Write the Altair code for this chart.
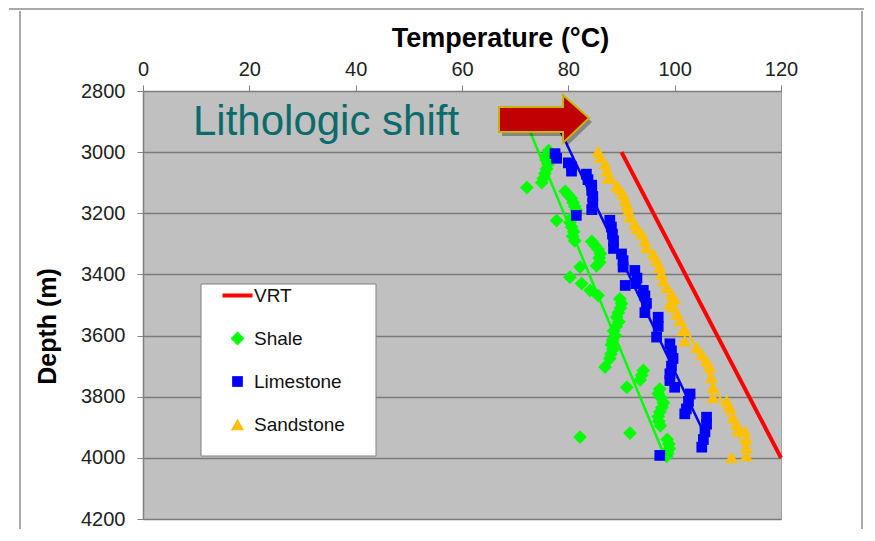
import altair as alt
import pandas as pd

# ---------------- data ----------------
shale_temp = [76.3, 76.0, 75.8, 76.2, 75.9, 75.6, 75.3, 75.0, 72.2,
              79.4, 80.0, 80.6, 80.9, 81.2, 81.5, 77.8,
              80.6, 80.3, 80.6, 81.0, 80.8, 81.2,
              84.4, 85.0, 85.6, 86.0, 85.8, 85.9, 85.3,
              80.3, 82.2, 82.5, 84.1, 85.6,
              89.7, 90.0, 89.8, 89.4, 89.1, 89.5, 89.0,
              88.5, 88.8, 88.3, 88.1, 88.4, 88.0, 87.8, 86.9,
              94.1, 93.8, 93.5, 91.0,
              97.2, 96.9, 97.5, 97.9, 97.6, 97.2, 96.9, 97.0, 97.3,
              82.2, 91.6, 98.6, 98.9, 99.0, 98.7, 98.5]
shale_depth = [2995, 3010, 3025, 3040, 3055, 3070, 3085, 3100, 3116,
               3128, 3140, 3152, 3165, 3178, 3190, 3224,
               3215, 3230, 3245, 3260, 3275, 3290,
               3292, 3305, 3318, 3332, 3346, 3360, 3372,
               3409, 3376, 3430, 3452, 3469,
               3480, 3495, 3510, 3525, 3540, 3555, 3570,
               3585, 3600, 3615, 3630, 3645, 3660, 3675, 3703,
               3714, 3730, 3745, 3769,
               3775, 3790, 3805, 3820, 3835, 3850, 3865, 3880, 3895,
               3932, 3919, 3940, 3955, 3970, 3985, 3995]

lime_temp = [77.5, 77.8, 80.0, 80.6, 80.6, 83.4, 83.7, 84.4, 84.4, 84.6, 84.6, 84.4,
             81.5, 87.8, 88.1, 88.3, 88.5, 88.5, 90.0, 90.3, 90.3, 92.5, 92.9, 92.7,
             90.7, 94.1, 94.4, 94.7, 94.4, 96.9, 96.9, 96.6, 99.1, 99.4, 99.7, 99.4,
             99.1, 99.1, 100.0, 102.9, 102.6, 102.2, 101.9, 106.0, 106.0, 105.7,
             105.4, 105.1, 97.2]
lime_depth = [3005, 3020, 3035, 3048, 3062, 3072, 3090, 3108, 3125, 3145, 3168, 3188,
              3207, 3223, 3245, 3268, 3290, 3315, 3333, 3355, 3376, 3387, 3412, 3430,
              3436, 3452, 3470, 3495, 3525, 3540, 3570, 3605, 3627, 3650, 3675, 3700,
              3725, 3747, 3769, 3791, 3815, 3840, 3856, 3867, 3890, 3915,
              3940, 3965, 3992]

sand_temp = [85.6, 86.0, 86.9, 87.2, 87.5, 89.1, 89.7, 90.3, 90.7, 91.0, 91.3, 91.6,
             92.5, 92.9, 93.8, 94.4, 94.7, 96.0, 96.6, 97.2, 97.5, 97.9, 98.5, 99.4,
             100.0, 99.1, 99.7, 100.4, 101.0, 101.6, 101.9, 104.1, 105.1, 106.0,
             106.6, 106.9, 107.2, 107.2, 109.8, 110.4, 111.0, 111.6, 111.9, 113.2,
             113.5, 113.5, 113.5, 110.7]
sand_depth = [2998, 3016, 3038, 3062, 3085, 3109, 3122, 3137, 3157, 3174, 3191, 3212,
              3234, 3250, 3267, 3289, 3311, 3333, 3354, 3376, 3398, 3420, 3442, 3463,
              3480, 3495, 3507, 3529, 3551, 3583, 3616, 3638, 3660, 3682,
              3703, 3736, 3769, 3802, 3813, 3835, 3867, 3889, 3911, 3911,
              3938, 3965, 3992, 3998]

vrt_temp = [90, 120]
vrt_depth = [3000, 4000]

shale_trend_temp = [72.5, 98.0]
shale_trend_depth = [2920, 3990]
lime_trend_temp = [78.5, 105.0]
lime_trend_depth = [2930, 3900]
sand_trend_temp = [86.0, 113.8]
sand_trend_depth = [3000, 3990]

categories = ["VRT", "Shale", "Limestone", "Sandstone"]
colors = ["#FF0000", "#00FF00", "#0000FF", "#FFC000"]
VRT_SYMBOL = "M-3,-0.4L3,-0.4L3,0.4L-3,0.4Z"
shapes = [VRT_SYMBOL, "diamond", "square", "triangle-up"]
marker_sizes = [100, 190, 115, 175]

ARROW = "M-45,-12L19,-12L19,-24L45,-1L19,24L19,13L-45,13Z"

# ---------------- tables ----------------
points = pd.DataFrame({
    "Temperature": shale_temp + lime_temp + sand_temp,
    "Depth": shale_depth + lime_depth + sand_depth,
    "Lithology": ["Shale"] * len(shale_temp) + ["Limestone"] * len(lime_temp)
                 + ["Sandstone"] * len(sand_temp),
})
shale_trend = pd.DataFrame({"Temperature": shale_trend_temp, "Depth": shale_trend_depth})
lime_trend = pd.DataFrame({"Temperature": lime_trend_temp, "Depth": lime_trend_depth})
sand_trend = pd.DataFrame({"Temperature": sand_trend_temp, "Depth": sand_trend_depth})
vrt = pd.DataFrame({"Temperature": vrt_temp, "Depth": vrt_depth})

FONT = "Liberation Sans"
x_scale = alt.Scale(domain=[0, 120], nice=False, zero=False)
y_scale = alt.Scale(domain=[2800, 4200], reverse=True, nice=False, zero=False)

x_axis = alt.Axis(orient="top", values=[0, 20, 40, 60, 80, 100, 120], grid=False,
                  format="d", labelFlush=False,
                  title="Temperature (°C)", titleFont=FONT, titleFontSize=27,
                  titleFontWeight="bold", titleColor="#000", titlePadding=7,
                  titleX=357, titleAlign="center",
                  labelFont=FONT, labelFontSize=20, labelColor="#222",
                  labelPadding=6, tickSize=6, tickColor="#808080",
                  domainColor="#808080")
y_axis = alt.Axis(values=[2800, 3000, 3200, 3400, 3600, 3800, 4000, 4200],
                  format="d", labelFlush=False,
                  grid=True, gridColor="#7a7a7a", gridWidth=1.5,
                  title="Depth (m)", titleFont=FONT, titleFontSize=25,
                  titleFontWeight="bold", titleColor="#000", titlePadding=20,
                  titleY=235, titleAlign="center",
                  labelFont=FONT, labelFontSize=20, labelColor="#222",
                  labelPadding=12, tickSize=6, tickColor="#808080",
                  domainColor="#808080", domainWidth=1.5)

legend = alt.Legend(title=None, orient="none", legendX=85, legendY=195,
                    labelFont=FONT, labelFontSize=19, labelColor="#111",
                    symbolSize=100, rowPadding=23, labelOffset=7,
                    symbolStrokeWidth=0, padding=0)

# frame lines of the slide
frame = alt.layer(
    alt.Chart().mark_rule(color="#555", strokeWidth=1).encode(
        x=alt.value(-123), y=alt.value(-80), y2=alt.value(440)),
    alt.Chart().mark_rule(color="#555", strokeWidth=1).encode(
        x=alt.value(719), y=alt.value(-80), y2=alt.value(440)),
    alt.Chart().mark_rule(color="#555", strokeWidth=1).encode(
        x=alt.value(-134), x2=alt.value(721), y=alt.value(-82)),
)

legend_box = alt.Chart().mark_rect(fill="white", stroke="#808080", strokeWidth=1).encode(
    x=alt.value(58), x2=alt.value(233), y=alt.value(193), y2=alt.value(365))


def trend(df, color, width):
    return alt.Chart(df).mark_line(color=color, strokeWidth=width).encode(
        x=alt.X("Temperature:Q", scale=x_scale, axis=x_axis),
        y=alt.Y("Depth:Q", scale=y_scale, axis=y_axis),
    )


shale_line = trend(shale_trend, "#00FF00", 2.5)
lime_line = trend(lime_trend, "#0000FF", 2.5)
sand_line = trend(sand_trend, "#FFC000", 2)
vrt_line = trend(vrt, "#FF0000", 4)

pts = alt.Chart(points).mark_point(filled=True, opacity=1).encode(
    x=alt.X("Temperature:Q", scale=x_scale, axis=x_axis),
    y=alt.Y("Depth:Q", scale=y_scale, axis=y_axis),
    color=alt.Color("Lithology:N", scale=alt.Scale(domain=categories, range=colors),
                    legend=legend),
    shape=alt.Shape("Lithology:N", scale=alt.Scale(domain=categories, range=shapes),
                    legend=legend),
    size=alt.Size("Lithology:N", scale=alt.Scale(type="ordinal", domain=categories,
                                                 range=marker_sizes),
                  legend=None),
)

arrow_shadow = alt.Chart().mark_point(filled=True, size=4, fill="#000", opacity=0.3,
                                      strokeWidth=0, shape=ARROW).encode(
    x=alt.value(404), y=alt.value(32))
arrow = alt.Chart().mark_point(filled=True, size=4, fill="#C00000", opacity=1,
                               stroke="#C8B400", strokeWidth=2, shape=ARROW).encode(
    x=alt.value(401), y=alt.value(28))
label = alt.Chart().mark_text(text="Lithologic shift", font=FONT, fontSize=42,
                              color="#0B6B6B", align="left", baseline="alphabetic").encode(
    x=alt.value(50), y=alt.value(44))

chart = alt.layer(
    frame, legend_box, shale_line, lime_line, sand_line, vrt_line, pts,
    arrow_shadow, arrow, label
).properties(
    width=638, height=428,
    autosize=alt.AutoSizeParams(type="none"),
    padding={"left": 135, "top": 83, "right": 86, "bottom": 10},
).configure(
    background="white",
    view=alt.ViewConfig(fill="#C0C0C0", stroke="#a0a0a0", strokeWidth=1),
)

chart.save("out.html", embed_options={"renderer": "svg", "actions": False})
